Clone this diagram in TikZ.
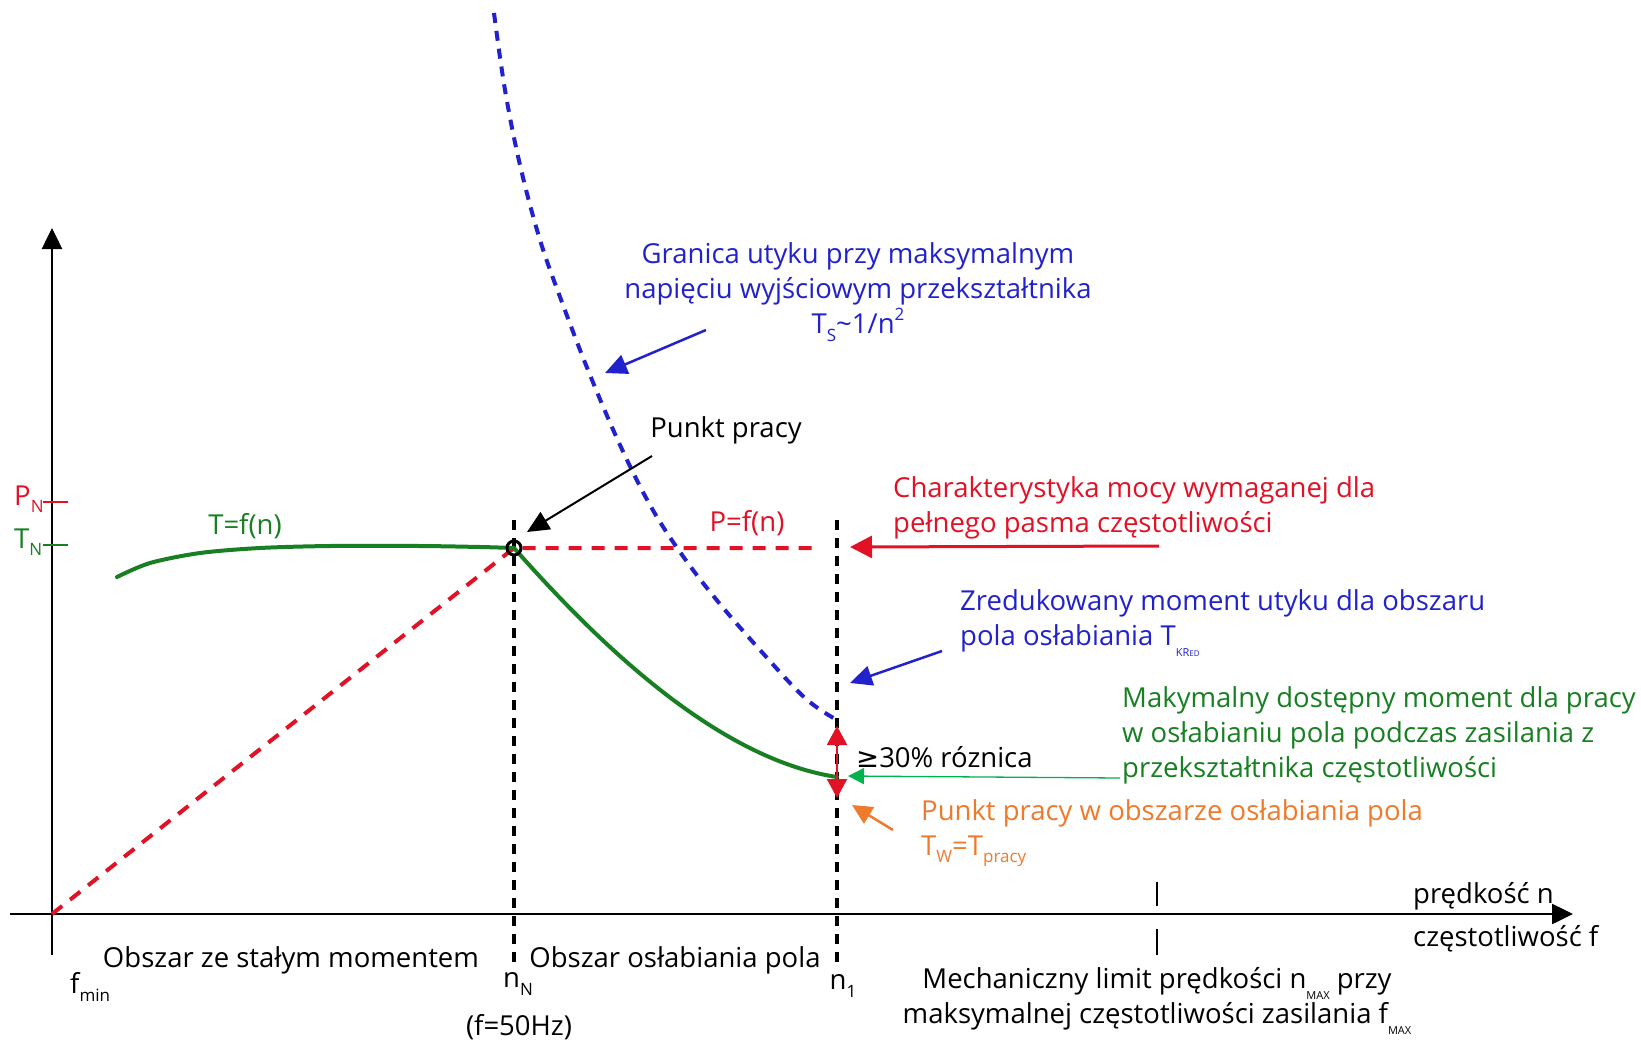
\documentclass[tikz,border=0pt]{standalone}
\usepackage{fontspec}
\setmainfont{Open Sans}
\newfontfamily\symf{DejaVu Sans}
\usetikzlibrary{arrows.meta}
\definecolor{cred}{RGB}{226,18,38}
\definecolor{cgreen}{RGB}{24,128,34}
\definecolor{cblue}{RGB}{34,34,204}
\definecolor{corange}{RGB}{240,122,44}
\definecolor{clgreen}{RGB}{0,178,80}
\newcommand\lsub[1]{\raisebox{-0.5ex}{\fontsize{17}{17}\selectfont #1}}
\newcommand\tsub[1]{\raisebox{-0.7ex}{\fontsize{11}{11}\selectfont #1}}
\newcommand\lsup[1]{\raisebox{0.9ex}{\fontsize{17}{17}\selectfont #1}}
\begin{document}
\begin{tikzpicture}[x=1pt,y=-1pt,
  txt/.style={inner sep=0pt, font=\fontsize{27.5}{35}\selectfont},
  axis/.style={line width=2.5pt, black},
  bigtip/.style={-{Triangle[length=21pt,width=20pt]}},
  vdash/.style={line width=3.5pt, black, dash pattern=on 10pt off 8pt},
  rdash/.style={line width=4pt, cred, dash pattern=on 13pt off 10pt},
  bdash/.style={line width=4pt, cblue, dash pattern=on 10pt off 8pt},
  tcurve/.style={line width=4pt, cgreen, line cap=round},
  callout/.style={line width=2.5pt}]
\useasboundingbox (0,0) rectangle (1641,1041);
\fill[white] (0,0) rectangle (1641,1041);

% coordinates
\coordinate (O) at (52,914);
\coordinate (ytop) at (52,228);
\coordinate (ybot) at (52,955);
\coordinate (xl) at (10,914);
\coordinate (xr) at (1573,914);
\coordinate (N) at (514,548);
\coordinate (nNt) at (514,520);
\coordinate (nNb) at (514,968);
\coordinate (n1t) at (837,520);
\coordinate (n1b) at (837,968);
\coordinate (Pend) at (818,548);
\coordinate (Tend) at (837,777);

% axes
\draw[axis, bigtip] (ybot) -- (ytop);
\draw[axis, bigtip] (xl) -- (xr);

% ticks
\coordinate (pn1) at (43,502); \coordinate (pn2) at (68,502);
\coordinate (tn1) at (43,545); \coordinate (tn2) at (68,545);
\draw[cred, line width=2.5pt] (pn1) -- (pn2);
\draw[cgreen, line width=2.5pt] (tn1) -- (tn2);
\coordinate (mx1) at (1157,882); \coordinate (mx2) at (1157,906);
\coordinate (mx3) at (1157,929); \coordinate (mx4) at (1157,955);
\draw[line width=2pt] (mx1) -- (mx2);
\draw[line width=2pt] (mx3) -- (mx4);

% vertical dashed
\draw[vdash] (nNt) -- (nNb);
\draw[vdash] (n1t) -- (n1b);

% power characteristic
\draw[rdash] (O) -- (N) -- (Pend);

% stall limit
\draw[bdash] plot[smooth, tension=0.6] coordinates {(494,13) (505,90) (520,165) (540,240) (563,305) (590,375) (620,445) (650,505) (680,552) (715,598) (760,650) (805,698) (837,720)};

% torque curve
\draw[tcurve] plot[smooth] coordinates {(117,577) (150,563) (200,553) (260,548) (330,546) (420,546) (480,547) (514,548)};
\draw[tcurve] (N) .. controls (585,628) and (710,758) .. (Tend);

% operating point
\draw[line width=3pt, black] (N) circle (7pt);

% 30% double arrow
\coordinate (dtop) at (837,726);
\coordinate (dbot) at (837,798);
\draw[cred, line width=2pt, {Triangle[length=19pt,width=20pt]}-{Triangle[length=19pt,width=20pt]}] (dbot) -- (dtop);

% callout arrows
\coordinate (aPt) at (652,456); \coordinate (aPh) at (527,532);
\draw[callout, black, line width=2pt, -{Triangle[length=22pt,width=20pt]}] (aPt) -- (aPh);
\coordinate (aGt) at (706,330); \coordinate (aGh) at (605,373);
\draw[callout, cblue, -{Triangle[length=22pt,width=20pt]}] (aGt) -- (aGh);
\coordinate (aZt) at (942,651); \coordinate (aZh) at (850,683);
\draw[callout, cblue, -{Triangle[length=22pt,width=20pt]}] (aZt) -- (aZh);
\coordinate (aCt) at (1159,546); \coordinate (aCh) at (850,547);
\draw[callout, cred, line width=3pt, -{Triangle[length=22pt,width=22pt]}] (aCt) -- (aCh);
\coordinate (aMt) at (1120,778); \coordinate (aMh) at (848,776);
\draw[clgreen, line width=1.3pt, -{Triangle[length=16pt,width=16pt]}] (aMt) -- (aMh);
\coordinate (aOt) at (893,830); \coordinate (aOh) at (852,805);
\draw[callout, corange, -{Triangle[length=20pt,width=19pt]}] (aOt) -- (aOh);

% labels
\node[txt, cred, anchor=west] (lPN) at (14,499) {P\lsub{N}};
\node[txt, cgreen, anchor=west] (lTN) at (14,542) {T\lsub{N}};
\node[txt, cgreen] (lT) at (245,526) {T=f(n)};
\node[txt, cred] (lP) at (747,523) {P=f(n)};
\node[txt, black] (lPunkt) at (726,430) {Punkt pracy};
\node[txt, cblue, align=center] (lGran) at (858,292) {Granica utyku przy maksymalnym\\napięciu wyjściowym przekształtnika\\T\lsub{S}\textasciitilde1/n\lsup{2}};
\node[txt, cred, align=left, anchor=west] (lChar) at (893,508) {Charakterystyka mocy wymaganej dla\\pełnego pasma częstotliwości};
\node[txt, cblue, align=left, anchor=west] (lZred) at (960,623) {Zredukowany moment utyku dla obszaru\\pola osłabiania T\tsub{KR{\fontsize{8}{8}\selectfont ED}}};
\node[txt, cgreen, align=left, anchor=west] (lMak) at (1122,735) {Makymalny dostępny moment dla pracy\\w osłabianiu pola podczas zasilania z\\przekształtnika częstotliwości};
\node[txt, black, anchor=west] (l30) at (856,757) {{\symf ≥}30\% róznica};
\node[txt, corange, align=left, anchor=west] (lOr) at (921,833) {Punkt pracy w obszarze osłabiania pola\\T\lsub{W}=T\lsub{pracy}};
\node[txt, black, anchor=west] (lspeed) at (1413,896) {prędkość n};
\node[txt, black, anchor=west] (lfreq) at (1413,939) {częstotliwość f};
\node[txt, black] (lObs1) at (291,960) {Obszar ze stałym momentem};
\node[txt, black] (lObs2) at (675,960) {Obszar osłabiania pola};
\node[txt, black, anchor=west] (lfmin) at (70,987) {f\lsub{min}};
\node[txt, black] (lnN) at (518,984) {n\lsub{N}};
\node[txt, black] (l50) at (519,1027) {(f=50Hz)};
\node[txt, black] (ln1) at (843,986) {n\lsub{1}};
\node[txt, black, align=center] (lMech) at (1157,1001) {Mechaniczny limit prędkości n\tsub{MAX} przy\\maksymalnej częstotliwości zasilania f\tsub{MAX}};
\end{tikzpicture}
\end{document}
